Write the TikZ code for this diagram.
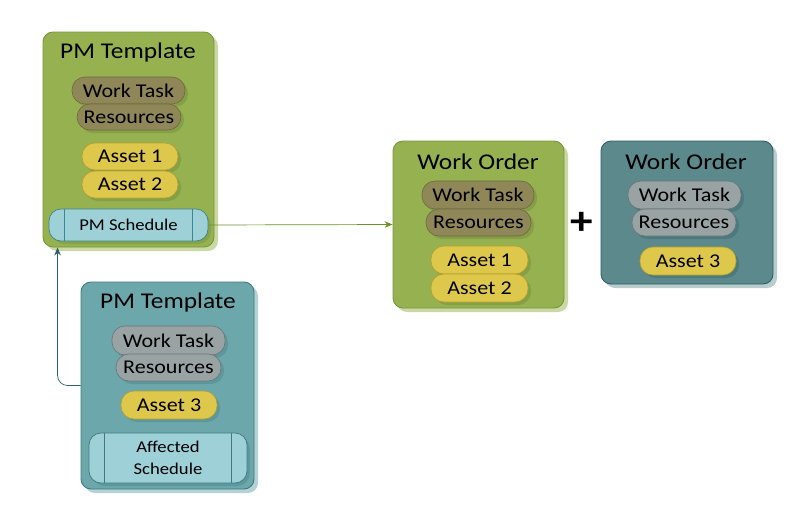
\documentclass[tikz,border=0pt]{standalone}
\usepackage{fontspec}
\setmainfont[FakeStretch=1.13]{Carlito}
\usetikzlibrary{arrows.meta,shadows}
\definecolor{gfill}{HTML}{96B150}
\definecolor{gdraw}{HTML}{789640}
\definecolor{gshad}{HTML}{CAD9A4}
\definecolor{tfill}{HTML}{6BA7AB}
\definecolor{tdraw}{HTML}{3E7A80}
\definecolor{tshad}{HTML}{B4D2D5}
\definecolor{dfill}{HTML}{5B898C}
\definecolor{ddraw}{HTML}{2F5E62}
\definecolor{dshad}{HTML}{B8CCCD}
\definecolor{bfill}{HTML}{8F8757}
\definecolor{bdraw}{HTML}{6D6A40}
\definecolor{gyfill}{HTML}{9AA3A3}
\definecolor{gydraw}{HTML}{6C7676}
\definecolor{yfill}{HTML}{DEC84C}
\definecolor{ydraw}{HTML}{B79E2E}
\definecolor{sfill}{HTML}{9ED0D8}
\definecolor{sdraw}{HTML}{3D8590}
\definecolor{garrow}{HTML}{6E9028}
\definecolor{tarrow}{HTML}{2F6068}
\tikzset{
  bigbox/.style={draw, rounded corners=10pt, line width=0.9pt, inner sep=0pt},
  pill/.style={draw, rounded corners=13pt, line width=0.6pt, inner sep=0pt,
    font=\fontsize{19.5}{19.5}\selectfont},
  brownpill/.style={pill, fill=bfill, draw=bdraw},
  graypill/.style={pill, fill=gyfill, draw=gydraw},
  yellowpill/.style={pill, fill=yfill, draw=ydraw},
  sched/.style={draw=sdraw, fill=sfill, rounded corners=12pt, line width=0.7pt, inner sep=0pt,
    font=\fontsize{16.5}{22}\selectfont, align=center},
  title/.style={font=\fontsize{22.5}{22.5}\selectfont, inner sep=0pt},
  conn/.style={line width=0.7pt, -{Stealth[length=8pt,width=6.5pt]}},
}
\begin{document}
\begin{tikzpicture}[x=1pt,y=-1pt]
\useasboundingbox (0,0) rectangle (806,525);
% ---------- shadows of big boxes
\fill[gshad, rounded corners=10pt] (47,36) rectangle (218,251);
\fill[gshad, rounded corners=10pt] (397,145) rectangle (568,312);
\fill[dshad, rounded corners=10pt] (605,145) rectangle (777,288);
\fill[tshad, rounded corners=10pt] (85,286) rectangle (258,493);
% ---------- big boxes
\node[bigbox, fill=gfill, draw=gdraw, minimum width=171pt, minimum height=215pt] (tpl1) at (128.5,139.5) {};
\node[bigbox, fill=gfill, draw=gdraw, minimum width=171pt, minimum height=167pt] (wo1) at (478.5,224.5) {};
\node[bigbox, fill=dfill, draw=ddraw, minimum width=172pt, minimum height=143pt] (wo2) at (687,212.5) {};
\node[bigbox, fill=tfill, draw=tdraw, minimum width=173pt, minimum height=207pt] (tpl2) at (167.5,385.5) {};
% ---------- titles
\node[title] (t1) at (128,52) {PM Template};
\node[title] (t2) at (478,162) {Work Order};
\node[title] (t3) at (686,162) {Work Order};
\node[title] (t4) at (168,302) {PM Template};
% ---------- pill shadows
\begin{scope}[rounded corners=13pt]
\fill[gdraw!85!black, opacity=0.35] (75,80) rectangle (188,107);
\fill[gdraw!85!black, opacity=0.35] (80,107) rectangle (184,133);
\fill[gdraw!85!black, opacity=0.35] (85,146) rectangle (181,173);
\fill[gdraw!85!black, opacity=0.35] (85,174) rectangle (181,201);
\fill[gdraw!85!black, opacity=0.35] (425,184) rectangle (537,212);
\fill[gdraw!85!black, opacity=0.35] (429,212) rectangle (534,239);
\fill[gdraw!85!black, opacity=0.35] (434,249) rectangle (531,277);
\fill[gdraw!85!black, opacity=0.35] (434,277) rectangle (531,305);
\fill[ddraw, opacity=0.35] (631,184) rectangle (744,212);
\fill[ddraw, opacity=0.35] (635,212) rectangle (739,239);
\fill[ddraw, opacity=0.35] (643,250) rectangle (739,278);
\fill[tdraw, opacity=0.35] (115,329) rectangle (228,358);
\fill[tdraw, opacity=0.35] (119,357) rectangle (224,384);
\fill[tdraw, opacity=0.35] (124,394) rectangle (220,422);
\fill[gdraw, opacity=0.5] (52,212) rectangle (211,244);
\fill[tdraw, opacity=0.35] (92,436) rectangle (250,486);
\end{scope}
% ---------- green template
\node[brownpill, minimum width=113pt, minimum height=27pt] (wt1) at (128.5,90.5) {Work Task};
\node[brownpill, minimum width=104pt, minimum height=26pt] (rs1) at (129,117) {Resources};
\node[yellowpill, minimum width=96pt, minimum height=27pt] (a11) at (130,156.5) {Asset 1};
\node[yellowpill, minimum width=96pt, minimum height=27pt] (a21) at (130,184.5) {Asset 2};
\node[sched, minimum width=159pt, minimum height=32pt] (sch1) at (128.5,225) {PM Schedule};
\draw[sdraw, line width=0.7pt] ([xshift=16pt]sch1.north west) -- ([xshift=16pt]sch1.south west);
\draw[sdraw, line width=0.7pt] ([xshift=-16pt]sch1.north east) -- ([xshift=-16pt]sch1.south east);
% ---------- green work order
\node[brownpill, minimum width=112pt, minimum height=28pt] (wt2) at (478,195) {Work Task};
\node[brownpill, minimum width=105pt, minimum height=27pt] (rs2) at (478.5,222.5) {Resources};
\node[yellowpill, minimum width=97pt, minimum height=28pt] (a12) at (479.5,260) {Asset 1};
\node[yellowpill, minimum width=97pt, minimum height=28pt] (a22) at (479.5,288) {Asset 2};
% ---------- dark work order
\node[graypill, minimum width=113pt, minimum height=28pt] (wt3) at (684.5,195) {Work Task};
\node[graypill, minimum width=104pt, minimum height=27pt] (rs3) at (684,222.5) {Resources};
\node[yellowpill, minimum width=96pt, minimum height=28pt] (a33) at (688,261) {Asset 3};
% ---------- teal template
\node[graypill, minimum width=113pt, minimum height=29pt] (wt4) at (168.5,340.5) {Work Task};
\node[graypill, minimum width=105pt, minimum height=27pt] (rs4) at (168.5,367.5) {Resources};
\node[yellowpill, minimum width=96pt, minimum height=28pt] (a34) at (169,405) {Asset 3};
\node[sched, draw=tdraw, minimum width=158pt, minimum height=50pt] (sch2) at (168,458) {Affected\\Schedule};
\draw[tdraw, line width=0.7pt] ([xshift=16pt]sch2.north west) -- ([xshift=16pt]sch2.south west);
\draw[tdraw, line width=0.7pt] ([xshift=-16pt]sch2.north east) -- ([xshift=-16pt]sch2.south east);
% ---------- plus
\node[font=\fontsize{40}{40}\selectfont\bfseries, inner sep=0pt] (plus) at (582,223) {+};
% ---------- connectors
\draw[conn, garrow] (sch1.east) -- (wo1.west);
\draw[conn, tarrow, rounded corners=10pt] (tpl2.west) -| ([xshift=15pt]tpl1.south west);
\end{tikzpicture}
\end{document}
